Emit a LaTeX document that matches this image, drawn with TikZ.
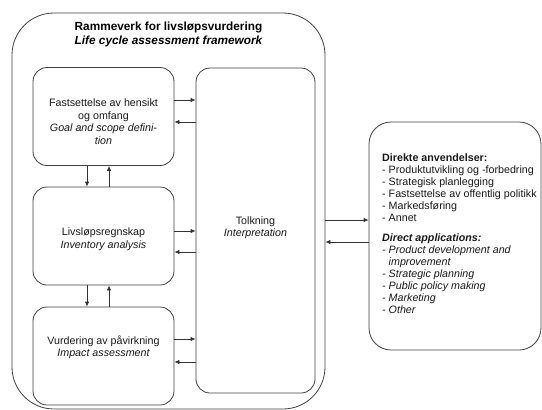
\documentclass[tikz,border=0pt]{standalone}
\usepackage{fontspec}
\setmainfont{Liberation Sans}
\usetikzlibrary{arrows.meta}
\begin{document}
\begin{tikzpicture}[x=1pt,y=-1pt,
  line/.style={draw=black!75, line width=0.8pt},
  stage/.style={line, rounded corners=14pt, minimum width=141pt, minimum height=98pt, inner sep=0pt},
  txt/.style={font=\fontsize{10.7}{12.5}\selectfont, align=center, inner sep=0pt, text=black!90},
  flow/.style={draw=black!80, line width=0.8pt, -{Latex[length=5pt,width=4.5pt]}},
]
\useasboundingbox (0,0) rectangle (542,410);

% outer framework
\node[line, rounded corners=42pt, minimum width=313pt, minimum height=396pt, inner sep=0pt] (frame) at (168.5,211) {};
\node[font=\bfseries\fontsize{11.8}{14}\selectfont, align=center, inner sep=0pt] (title) at (168.5,34)
  {Rammeverk for livsløpsvurdering\\\itshape Life cycle assessment framework};

% the three stages
\node[stage] (goal) at (103.5,116.5) {};
\node[stage] (inv)  at (103.5,236) {};
\node[stage] (imp)  at (103.5,356) {};
\node[txt] (goaltxt) at (103.5,121.5) {Fastsettelse av hensikt\\og omfang\\\itshape Goal and scope defini-\\\itshape tion};
\node[txt] (invtxt) at (103.5,239) {Livsløpsregnskap\\\itshape Inventory analysis};
\node[txt] (imptxt) at (103.5,347.5) {Vurdering av påvirkning\\\itshape Impact assessment};

% interpretation
\node[line, rounded corners=14pt, minimum width=119pt, minimum height=325pt, inner sep=0pt] (interp) at (255.5,230.5) {};
\node[txt] (interptxt) at (255.5,227.5) {Tolkning\\\itshape Interpretation};

% applications
\node[line, rounded corners=22pt, minimum width=172pt, minimum height=228pt, inner sep=0pt] (apps) at (455,236) {};
\node[anchor=north west, inner sep=0pt, align=left, font=\fontsize{10.7}{12}\selectfont, text=black!90] (appstxt) at (382,154)
  {\textbf{Direkte anvendelser:}\\
   - Produktutvikling og -forbedring\\
   - Strategisk planlegging\\
   - Fastsettelse av offentlig politikk\\
   - Markedsføring\\
   - Annet\\[8pt]
   \textbf{\itshape Direct applications:}\\
   \itshape - Product development and\\
   \itshape \phantom{- }improvement\\
   \itshape - Strategic planning\\
   \itshape - Public policy making\\
   \itshape - Marketing\\
   \itshape - Other};

% stage <-> interpretation
\coordinate (g1) at ([yshift=16.5pt]goal.east);
\coordinate (g2) at ([yshift=-5.5pt]goal.east);
\coordinate (i1) at ([yshift=5pt]inv.east);
\coordinate (i2) at ([yshift=-16pt]inv.east);
\coordinate (m1) at ([yshift=17pt]imp.east);
\coordinate (m2) at ([yshift=-6pt]imp.east);
\draw[flow] (g1) -- (g1 -| interp.west);
\draw[flow] (g2 -| interp.west) -- (g2);
\draw[flow] (i1) -- (i1 -| interp.west);
\draw[flow] (i2 -| interp.west) -- (i2);
\draw[flow] (m1) -- (m1 -| interp.west);
\draw[flow] (m2 -| interp.west) -- (m2);

% stage <-> stage
\coordinate (d1) at ([xshift=-16.5pt]goal.south);
\coordinate (u1) at ([xshift=5.5pt]goal.south);
\coordinate (d2) at ([xshift=-16.5pt]inv.south);
\coordinate (u2) at ([xshift=5.5pt]inv.south);
\draw[flow] (d1) -- (d1 |- inv.north);
\draw[flow] (u1 |- inv.north) -- (u1);
\draw[flow] (d2) -- (d2 |- imp.north);
\draw[flow] (u2 |- imp.north) -- (u2);

% framework <-> applications
\coordinate (a1) at ([yshift=16pt]apps.west);
\coordinate (a2) at ([yshift=-6pt]apps.west);
\draw[flow] (a1 -| frame.east) -- (a1);
\draw[flow] (a2) -- (a2 -| frame.east);
\end{tikzpicture}
\end{document}
